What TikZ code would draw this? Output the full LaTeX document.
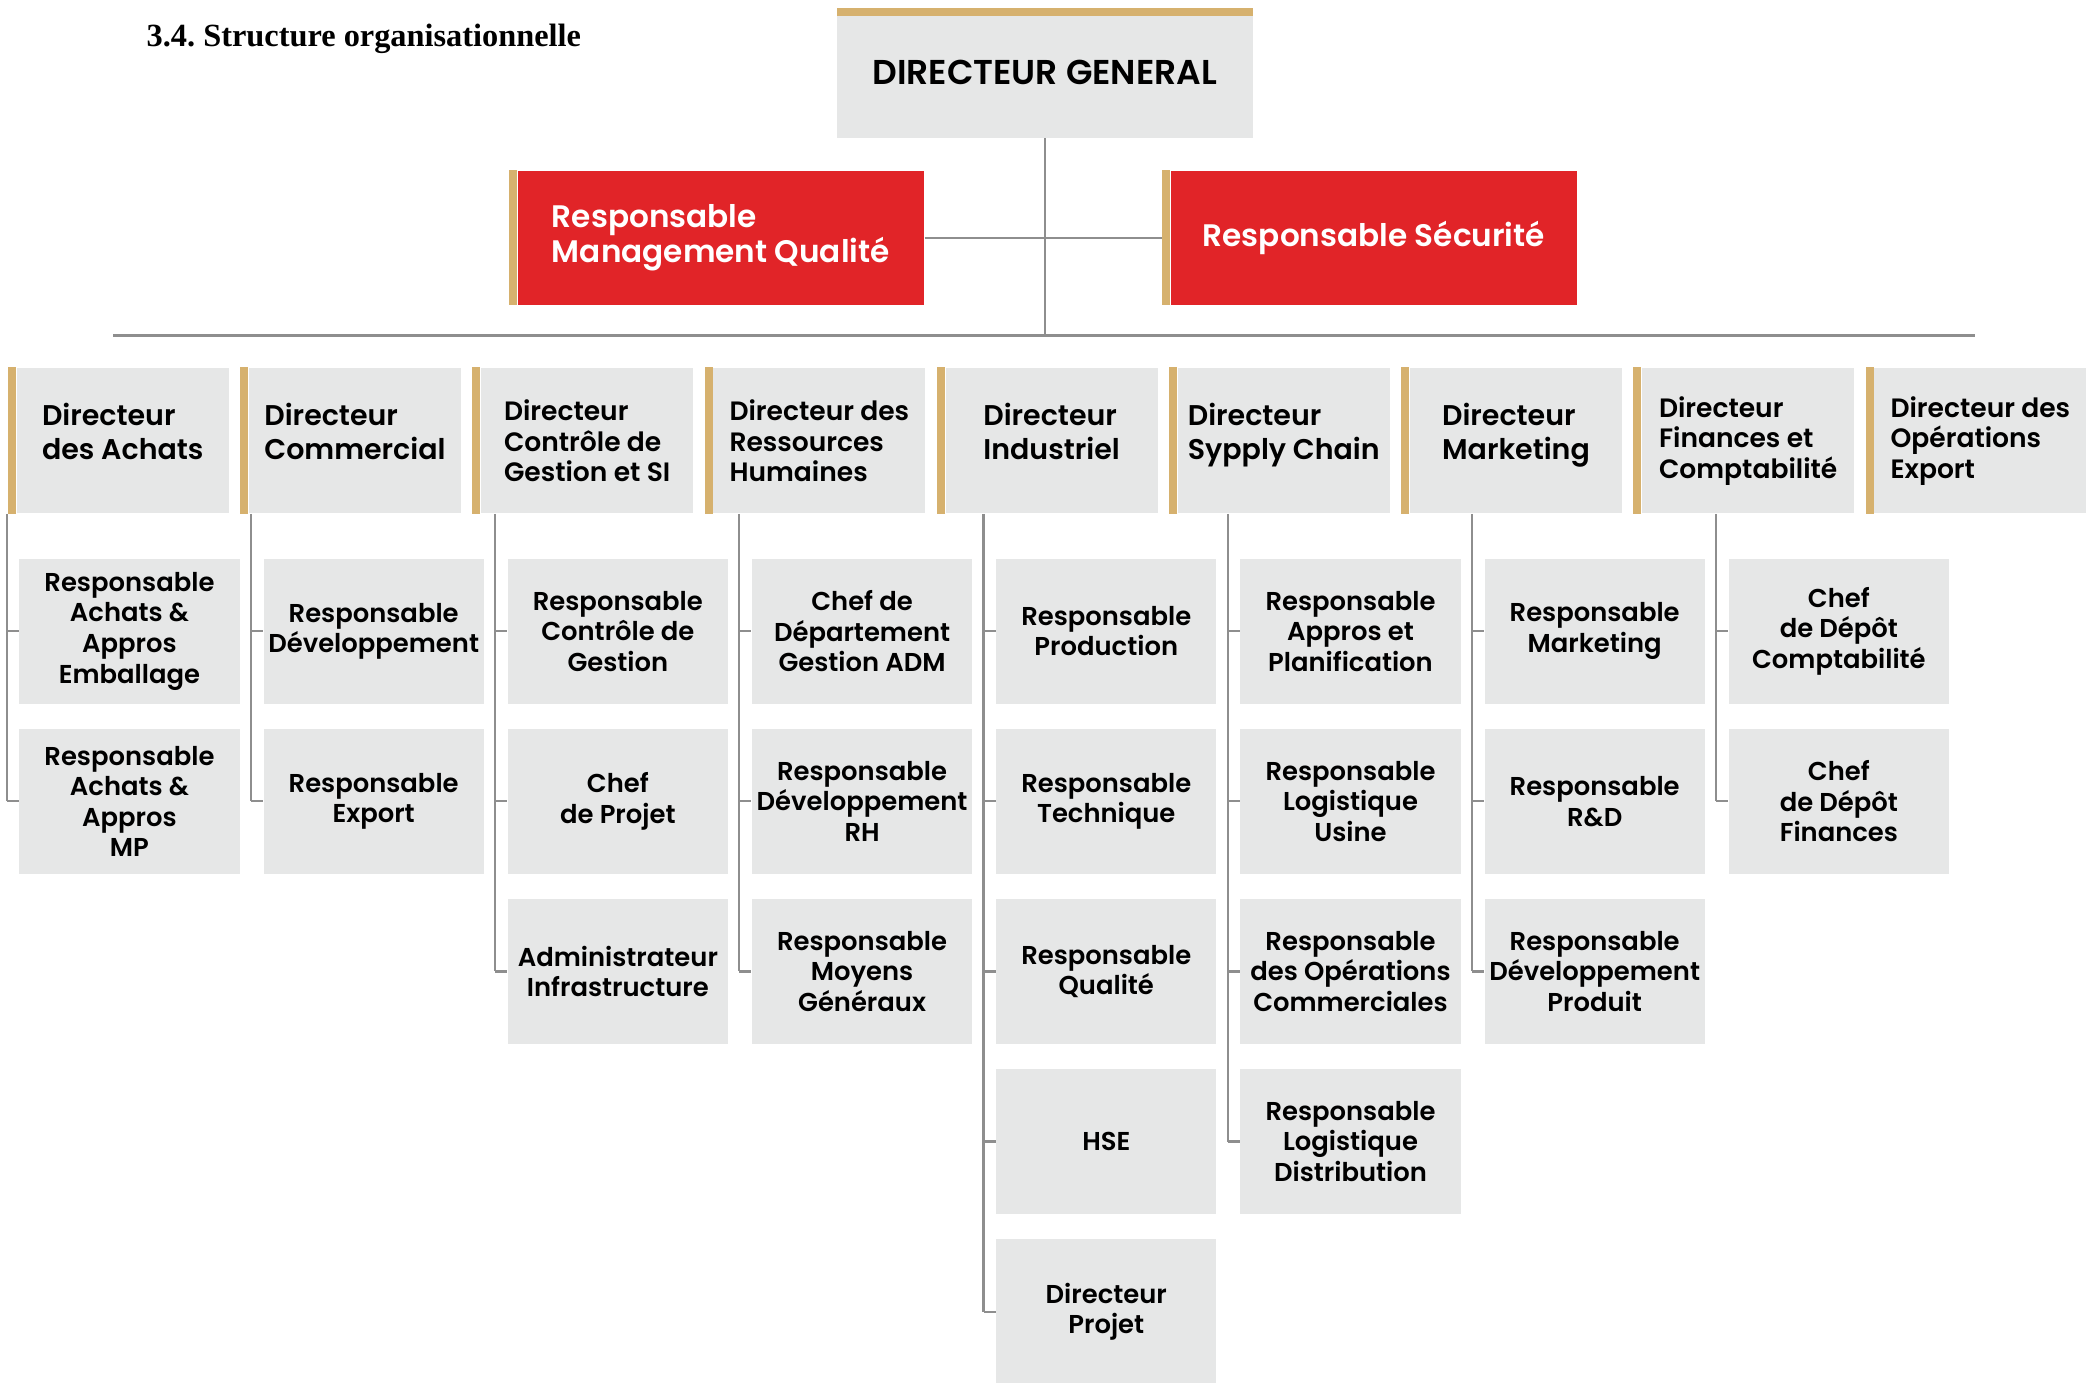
\documentclass[tikz,border=0pt]{standalone}
\usepackage{fontspec}
\setmainfont{Liberation Serif}
\newfontfamily\orgfont{Poppins}[UprightFont={* SemiBold}]

\definecolor{boxgray}{HTML}{E6E7E7}
\definecolor{gold}{HTML}{D6B16E}
\definecolor{orgred}{HTML}{E12428}
\definecolor{linegray}{HTML}{8E8E8E}

\tikzset{
	orgline/.style={draw=linegray, line width=0.6pt},
	basebox/.style={fill=boxgray, inner sep=0pt, anchor=north west},
	% gold strip on the left, outside the node so the text stays centred on the rest
	goldbar/.style={xshift=0.08cm, append after command={\pgfextra{\fill[gold] (\tikzlastnode.north west) rectangle ([xshift=-0.08cm]\tikzlastnode.south west);}}},
	goldtop/.style={path picture={\fill[gold] (path picture bounding box.north west) rectangle ([yshift=-0.08cm]path picture bounding box.north east);}},
	dirbox/.style={basebox, goldbar, minimum width=2.12cm, minimum height=1.45cm, align=left, font=\orgfont\fontsize{8.1}{9.5}\selectfont},
	% two-line titles sit a little above the middle
	dirtwo/.style={execute at end node={\rule[-0.19cm]{0pt}{0pt}}},
	dirsmall/.style={font=\orgfont\fontsize{7.55}{8.7}\selectfont},
	subbox/.style={basebox, minimum width=2.2cm, minimum height=1.45cm, align=center, font=\orgfont\fontsize{7.35}{8.7}\selectfont},
	redbox/.style={basebox, goldbar, fill=orgred, text=white, minimum width=4.06cm, minimum height=1.34cm, align=left, font=\orgfont\fontsize{8.85}{10.2}\selectfont},
}

\begin{document}
\begin{tikzpicture}[x=0.01cm, y=-0.01cm]
	\useasboundingbox (0,0) rectangle (2088,1383);
	\node[anchor=base west, inner sep=0pt, font=\bfseries\fontsize{9.2}{11}\selectfont] (title) at (146,47) {3.4.\ Structure organisationnelle};

	% top of the chart
	\node[basebox, goldtop, minimum width=4.16cm, minimum height=1.30cm, font=\orgfont\fontsize{9.8}{11}\selectfont] (dg) at (836,7) {DIRECTEUR GENERAL};
	\node[redbox] (rmq) at (509,170) {Responsable\\Management Qualité};
	\node[redbox] (rs) at (1162,170) {Responsable Sécurité};
	\coordinate (busL) at (113,336);
	\coordinate (busR) at (1975,336);
	\draw[orgline] (rmq.east) -- ([xshift=-0.08cm]rs.west);
	\draw[orgline] (dg.south) -- (dg.south |- busL);
	\draw[draw=linegray, line width=0.85pt] (busL) -- (busR);

	% directors
	\node[dirbox, dirtwo] (d1) at (8,367.5) {Directeur\\des Achats};
	\node[dirbox, dirtwo] (d2) at (240.2,367.5) {Directeur\\Commercial};
	\node[dirbox, dirsmall] (d3) at (472.4,367.5) {Directeur\\Contrôle de\\Gestion et SI};
	\node[dirbox, dirsmall] (d4) at (704.6,367.5) {Directeur des\\Ressources\\Humaines};
	\node[dirbox, dirtwo] (d5) at (936.8,367.5) {Directeur\\Industriel};
	\node[dirbox, dirtwo] (d6) at (1169,367.5) {Directeur\\Sypply Chain};
	\node[dirbox, dirtwo] (d7) at (1401.2,367.5) {Directeur\\Marketing};
	\node[dirbox, dirsmall] (d8) at (1633.4,367.5) {Directeur\\Finances et\\Comptabilité};
	\node[dirbox, dirsmall] (d9) at (1865.6,367.5) {Directeur des\\Opérations\\Export};

	% staff under each director
	\foreach \c/\r/\txt in {
		1/1/{Responsable\\Achats \&\\Appros\\Emballage}, 1/2/{Responsable\\Achats \&\\Appros\\MP},
		2/1/{Responsable\\Développement}, 2/2/{Responsable\\Export},
		3/1/{Responsable\\Contrôle de\\Gestion}, 3/2/{Chef\\de Projet}, 3/3/{Administrateur\\Infrastructure},
		4/1/{Chef de\\Département\\Gestion ADM}, 4/2/{Responsable\\Développement\\RH}, 4/3/{Responsable\\Moyens\\Généraux},
		5/1/{Responsable\\Production}, 5/2/{Responsable\\Technique}, 5/3/{Responsable\\Qualité}, 5/4/{HSE}, 5/5/{Directeur\\Projet},
		6/1/{Responsable\\Appros et\\Planification}, 6/2/{Responsable\\Logistique\\Usine}, 6/3/{Responsable\\des Opérations\\Commerciales}, 6/4/{Responsable\\Logistique\\Distribution},
		7/1/{Responsable\\Marketing}, 7/2/{Responsable\\R\&D}, 7/3/{Responsable\\Développement\\Produit},
		8/1/{Chef\\de Dépôt\\Comptabilité}, 8/2/{Chef\\de Dépôt\\Finances}}
		\node[subbox] (c\c-\r) at ({18.7+244.2*(\c-1)}, {558+170.1*(\r-1)}) {\txt};

	% column lines with a tick to every box
	\foreach \c/\n in {1/2, 2/2, 3/3, 4/3, 5/5, 6/4, 7/3, 8/2} {
		\draw[orgline] ([xshift=-0.12cm]c\c-1.west |- d\c.south) -- ([xshift=-0.12cm]c\c-\n.west);
		\foreach \r in {1,...,\n}
			\draw[orgline] ([xshift=-0.12cm]c\c-\r.west) -- (c\c-\r.west);
	}
\end{tikzpicture}
\end{document}
